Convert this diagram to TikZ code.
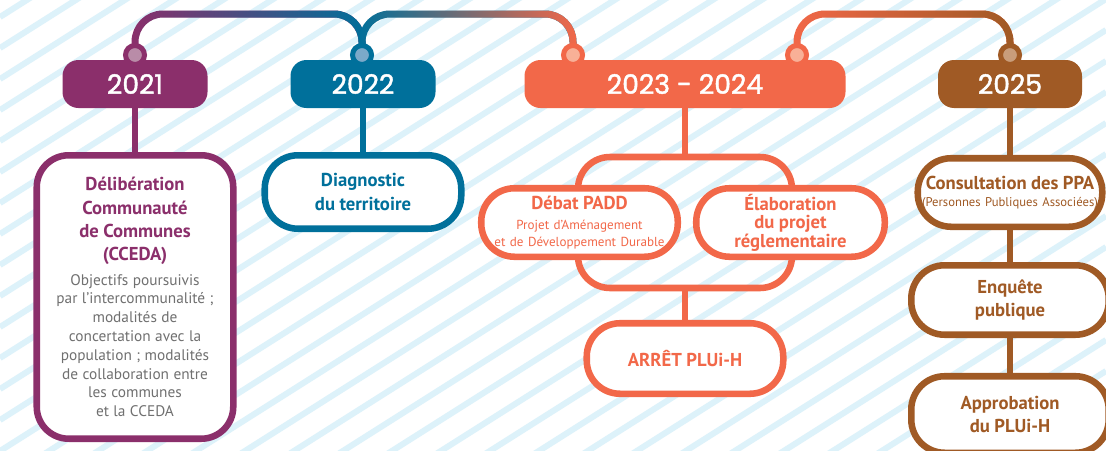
\documentclass[tikz,border=0pt]{standalone}
\usepackage{fontspec}
\setmainfont{PT Sans}
\newfontfamily\yearfont{Poppins}[FakeBold=1.6]
\usetikzlibrary{fadings}

\definecolor{cPurple}{HTML}{8B2F6B}
\definecolor{cPurpleL}{HTML}{B98CA8}
\definecolor{cTeal}{HTML}{00709B}
\definecolor{cTealL}{HTML}{7BA9C9}
\definecolor{cOrange}{HTML}{F26849}
\definecolor{cOrangeL}{HTML}{F8B097}
\definecolor{cBrown}{HTML}{A05A25}
\definecolor{cBrownL}{HTML}{C99D7B}
\definecolor{cStripe}{HTML}{DDF2FA}
\definecolor{cGrey}{HTML}{707070}

\newcommand\titlefont{\bfseries\fontsize{14}{17.6}\selectfont}
\newcommand\bodyfont{\fontsize{11.5}{14.1}\selectfont}
\newcommand\smallfont{\fontsize{9.5}{12.75}\selectfont}

\tikzfading[name=fadein, left color=transparent!100, right color=transparent!0]

\tikzset{
  yearpill/.style={rectangle, rounded corners=12pt, minimum height=36pt, inner sep=0pt,
    text=white, font=\yearfont\fontsize{20}{20}\selectfont},
  yeardot/.style={circle, minimum size=14.25pt, inner sep=0pt, line width=3.75pt},
  stepbox/.style={rectangle, rounded corners=25pt, draw, fill=white, line width=4.9pt,
    inner sep=0pt, align=center},
  link/.style={line width=4.9pt},
  topline/.style={line width=5.25pt, rounded corners=21pt},
  stripe/.style={draw=cStripe, line width=4.5pt}
}

\begin{document}
\begin{tikzpicture}[x=0.75pt,y=0.75pt,yscale=-1,xscale=1]
\useasboundingbox (0,0) rectangle (1106,450);
\clip (0,0) rectangle (1106,450);
\fill[white] (0,0) rectangle (1106,450);
\foreach \k in {-14,...,24}
  \draw[stripe] (0,{420+31*\k}) -- (1106,{-280+31*\k});

\coordinate (d21) at (135,55);
\coordinate (d22) at (362,55);
\coordinate (d23a) at (573,55);
\coordinate (d23b) at (797,55);
\coordinate (d25) at (1010,55);

\draw[topline, cPurple] (d21) -- ++(0,-41) -| (d22);
\draw[topline, cTeal, path fading=fadein] (d21) -- ++(0,-41) -| (d22);
\draw[topline, cTeal] (d22) -- ++(0,-41) -| (d23a);
\draw[topline, cOrange, path fading=fadein] (d22) -- ++(0,-41) -| (d23a);
\draw[topline, cOrange] (d23b) -- ++(0,-41) -| (d25);
\draw[topline, cBrown, path fading=fadein] (d23b) -- ++(0,-41) -| (d25);

\node[yearpill, fill=cPurple, minimum width=108.75pt] (y21) at (135,84) {2021};
\node[yearpill, fill=cTeal, minimum width=108.75pt] (y22) at (363,84) {2022};
\node[yearpill, fill=cOrange, minimum width=240.75pt] (y2324) at (685,84) {2023 - 2024};
\node[yearpill, fill=cBrown, minimum width=108pt] (y25) at (1010,84) {2025};

\node[yeardot, draw=cPurple, fill=cPurpleL] (p21) at (d21) {};
\node[yeardot, draw=cTeal, fill=cTealL] (p22) at (d22) {};
\node[yeardot, draw=cOrange, fill=cOrangeL] (p23a) at (d23a) {};
\node[yeardot, draw=cOrange, fill=cOrangeL] (p23b) at (d23b) {};
\node[yeardot, draw=cBrown, fill=cBrownL] (p25) at (d25) {};

\node[stepbox, draw=cPurple, text=cPurple, rounded corners=24pt, minimum width=147.4pt,
  minimum height=212.6pt, text width=140pt] (b21) at (135,297)
  {{\titlefont D\'elib\'eration\\Communaut\'e\\de Communes\\(CCEDA)\par}\vskip4pt
   {\bodyfont\color{cGrey}Objectifs poursuivis\\par l’intercommunalit\'e ;\\modalit\'es de\\
    concertation avec la\\population ; modalit\'es\\de collaboration entre\\les communes\\
    et la CCEDA\par}};

\node[stepbox, draw=cTeal, text=cTeal, minimum width=147.4pt, minimum height=55.1pt,
  text width=145pt] (b22) at (363,192)
  {{\titlefont Diagnostic\\du territoire\par}};

\node[rectangle, rounded corners=24pt, draw=cOrange, line width=4.9pt, minimum width=160.5pt,
  minimum height=98.25pt] (br) at (685,222.5) {};

\node[stepbox, draw=cOrange, text=cOrange, minimum width=147.4pt, minimum height=51.4pt,
  text width=145pt] (b23a) at (579.5,222.5)
  {{\titlefont D\'ebat PADD\par}\vskip2pt
   {\fontsize{9.8}{12.75}\selectfont Projet d’Am\'enagement\\et de D\'eveloppement Durable\par}};
\node[stepbox, draw=cOrange, text=cOrange, minimum width=141.4pt, minimum height=51.4pt,
  text width=140pt] (b23b) at (790.5,222.5)
  {{\bfseries\fontsize{14}{13.9}\selectfont \'Elaboration\\du projet\\r\'eglementaire\par}};
\node[stepbox, draw=cOrange, text=cOrange, minimum width=147.4pt, minimum height=52.9pt,
  text width=145pt] (b23c) at (685,358.5)
  {{\titlefont ARR\^ET PLUi-H\par}};

\node[stepbox, draw=cBrown, text=cBrown, minimum width=138.4pt, minimum height=51.4pt,
  text width=138pt] (b25a) at (1010,192.5)
  {{\titlefont Consultation des PPA\par}
   {\smallfont (Personnes Publiques Associ\'ees)\par}};
\node[stepbox, draw=cBrown, text=cBrown, minimum width=148.1pt, minimum height=52.1pt,
  text width=145pt] (b25b) at (1010,300)
  {{\titlefont Enqu\^ete\\publique\par}};
\node[stepbox, draw=cBrown, text=cBrown, minimum width=148.1pt, minimum height=57.4pt,
  text width=145pt] (b25c) at (1010,414.5)
  {{\titlefont Approbation\\du PLUi-H\par}};

\draw[link, cPurple] (y21) -- (b21);
\draw[link, cTeal] (y22) -- (b22);
\draw[link, cOrange] (y2324) -- (br);
\draw[link, cOrange] (br) -- (b23c);
\draw[link, cBrown] (y25) -- (b25a);
\draw[link, cBrown] (b25a) -- (b25b);
\draw[link, cBrown] (b25b) -- (b25c);
\end{tikzpicture}
\end{document}
